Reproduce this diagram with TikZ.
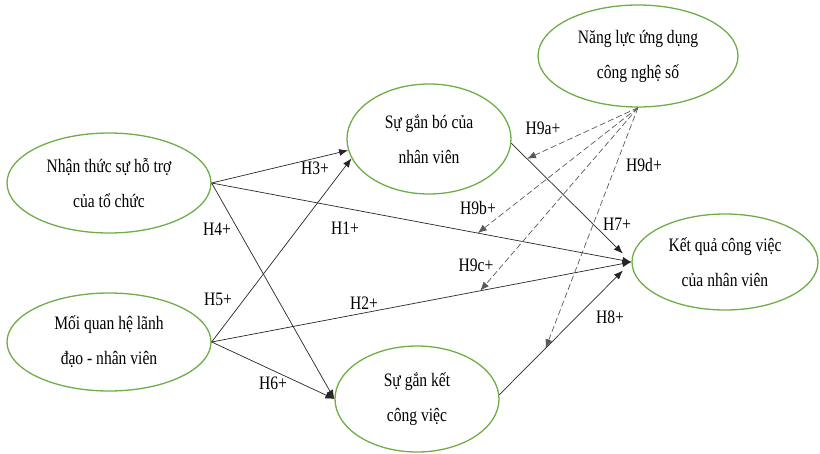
\documentclass[tikz,border=0pt]{standalone}
\usepackage{fontspec}
\setmainfont{Liberation Serif}[FakeStretch=0.82]
\usetikzlibrary{shapes.geometric,arrows.meta}
\definecolor{vgreen}{RGB}{112,173,71}
\begin{document}
\begin{tikzpicture}[x=1pt,y=-1pt,
  var/.style={ellipse,draw=vgreen,line width=1.3pt,inner sep=0pt,align=center,font=\fontsize{19}{35}\selectfont},
  hyp/.style={draw=black!85,line width=0.7pt,-{Latex[length=9pt,width=7pt]}},
  mod/.style={hyp,draw=black!65,dash pattern=on 6pt off 3pt},
  lab/.style={font=\fontsize{19}{20}\selectfont}]
\useasboundingbox (0,0) rectangle (820,453);
% Draw the variables
\node[var,minimum width=204pt,minimum height=100pt] (nt) at (109,183) {Nhận thức sự hỗ trợ\\của tổ chức};
\node[var,minimum width=204pt,minimum height=98pt] (qh) at (109,342) {Mối quan hệ lãnh\\đạo - nhân viên};
\node[var,minimum width=164pt,minimum height=110pt] (gb) at (429,139) {Sự gắn bó của\\nhân viên};
\node[var,minimum width=164pt,minimum height=106pt] (gk) at (417,399) {Sự gắn kết\\công việc};
\node[var,minimum width=186pt,minimum height=96pt] (kq) at (725,262) {Kết quả công việc\\của nhân viên};
\node[var,minimum width=200pt,minimum height=102pt] (nl) at (638,56) {Năng lực ứng dụng\\công nghệ số};

% Draw the hypotheses
\draw[hyp] (nt.east) -- (gb.188);
\draw[hyp] (nt.east) -- coordinate[pos=0.634] (m1) (kq.west);
\draw[hyp] (nt.east) -- (gk.west);
\draw[hyp] (qh.east) -- (gb.194);
\draw[hyp] (qh.east) -- coordinate[pos=0.64] (m2) (kq.west);
\draw[hyp] (qh.east) -- (gk.west);
\draw[hyp,shorten >=12pt] (gb.357) -- coordinate[pos=0.13] (m7) (kq.west);
\draw[hyp,shorten >=12pt] (gk.3) -- coordinate[pos=0.35] (m8) (kq.west);

% Moderation by the digital skills
\draw[mod] (nl.south) -- (m7);
\draw[mod] (nl.south) -- (m1);
\draw[mod] (nl.south) -- (m2);
\draw[mod] (nl.south) -- (m8);

% Labels
\node[lab] (h1) at (345,228) {H1+};
\node[lab] (h2) at (364,303) {H2+};
\node[lab] (h3) at (315,168) {H3+};
\node[lab] (h4) at (217,229) {H4+};
\node[lab] (h5) at (218,299) {H5+};
\node[lab] (h6) at (273,383) {H6+};
\node[lab] (h7) at (617,224) {H7+};
\node[lab] (h8) at (610,317) {H8+};
\node[lab] (h9a) at (543,128) {H9a+};
\node[lab] (h9b) at (478,208) {H9b+};
\node[lab] (h9c) at (476,265) {H9c+};
\node[lab] (h9d) at (644,165) {H9d+};
\end{tikzpicture}
\end{document}
